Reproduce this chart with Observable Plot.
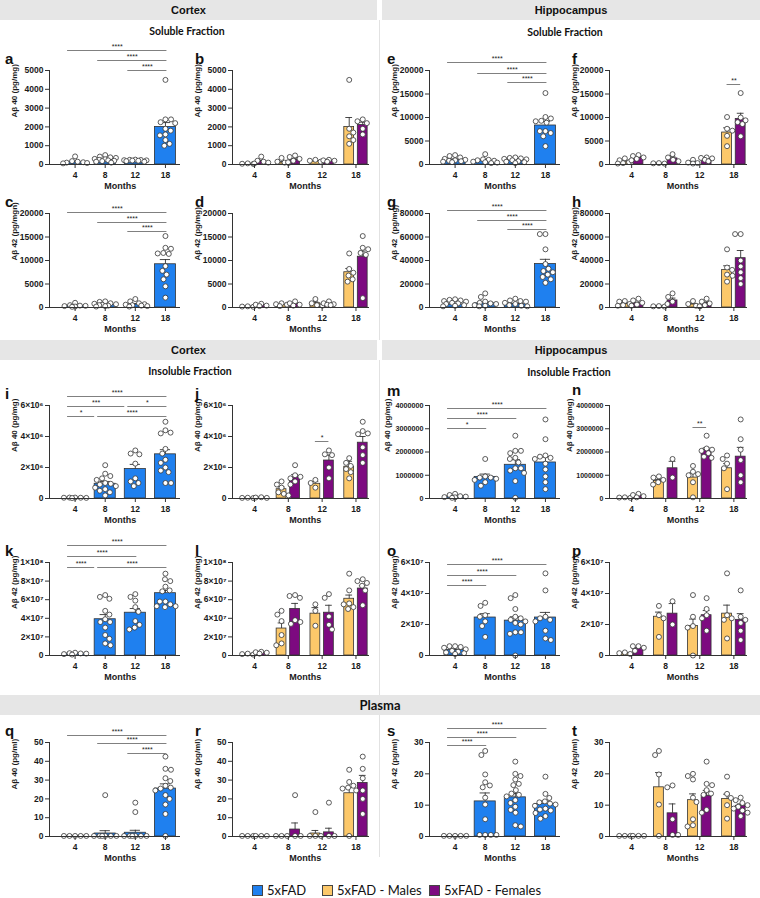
<!DOCTYPE html>
<html><head><meta charset="utf-8">
<script src="https://cdn.jsdelivr.net/npm/d3@7"></script>
<script src="https://cdn.jsdelivr.net/npm/@observablehq/plot@0.6"></script>
<style>
body{margin:0;background:#fff;}
#root{position:relative;width:760px;height:898px;overflow:hidden;font-family:"Liberation Sans",Arial,sans-serif;color:#111;}
.band{position:absolute;background:#e6e6e6;height:20px;line-height:20px;text-align:center;font-weight:bold;font-size:11px;}
.sub{position:absolute;font-family:Lato,"Open Sans",sans-serif;font-weight:bold;font-size:10.5px;transform:translate(-50%,-50%);white-space:nowrap;}
.letter{position:absolute;font-weight:bold;font-size:15px;line-height:15px;}
.panel{position:absolute;}
.sep{position:absolute;width:1px;background:#e2e2e2;}
.lg{position:absolute;font-family:Lato,"Open Sans",sans-serif;font-size:13px;line-height:13px;white-space:nowrap;}
.sq{position:absolute;width:11px;height:11px;box-sizing:border-box;border:1px solid #444;}
</style></head><body><div id="root"></div>
<script>
// ---------- categories / tick labels ----------
const months = ["4", "8", "12", "18"];
const ticks5k = [0, 1000, 2000, 3000, 4000, 5000];
const ticks20k = [0, 5000, 10000, 15000, 20000];
const ticks80k = [0, 20000, 40000, 60000, 80000];
const ticks6e6 = [0, 2e6, 4e6, 6e6];
const labels6e6 = ["0", "2×10⁶", "4×10⁶", "6×10⁶"];
const ticks1e8 = [0, 2e7, 4e7, 6e7, 8e7, 1e8];
const labels1e8 = ["0", "2×10⁷", "4×10⁷", "6×10⁷", "8×10⁷", "1×10⁸"];
const ticks4e6 = [0, 1e6, 2e6, 3e6, 4e6];
const ticks6e7 = [0, 2e7, 4e7, 6e7];
const labels6e7 = ["0", "2×10⁷", "4×10⁷", "6×10⁷"];
const ticks50 = [0, 10, 20, 30, 40, 50];
const ticks30 = [0, 10, 20, 30];
const seriesNames = ["5xFAD", "5xFAD - Males", "5xFAD - Females"];

// ---------- a: cortex soluble Aβ40 ----------
const a_mean = [120, 230, 210, 2000];
const a_sem = [40, 40, 15, 230];
const a_pts = [[430, 180, 150, 120, 100, 80, 60],
  [500, 420, 380, 350, 300, 280, 250, 220, 200, 180, 150, 100],
  [260, 250, 240, 230, 220, 210, 200, 180, 150],
  [4500, 2400, 2400, 2250, 2200, 1900, 1800, 1600, 1550, 1300, 1100, 1000]];
// ---------- b ----------
const b_m_mean = [40, 110, 170, 2000];
const b_m_sem = [10, 30, 20, 500];
const b_m_pts = [[60, 40, 30], [350, 150, 100, 80], [250, 200, 150], [4500, 1900, 1700, 1500, 1300, 1100]];
const b_f_mean = [160, 240, 200, 2100];
const b_f_sem = [60, 60, 20, 150];
const b_f_pts = [[420, 200, 150, 100, 50], [480, 400, 300, 200, 120], [250, 220, 200, 150], [2400, 2300, 2200, 1900, 1600]];
// ---------- c: cortex soluble Aβ42 ----------
const c_mean = [350, 550, 650, 9200];
const c_sem = [100, 110, 150, 1000];
const c_pts = [[1000, 500, 400, 350, 300, 200, 150],
  [1300, 1200, 900, 800, 700, 600, 500, 400, 300, 200],
  [1800, 1300, 900, 700, 600, 500, 400, 300, 200],
  [15200, 12700, 12500, 11500, 11400, 11600, 8800, 7800, 7000, 6000, 4500, 2100]];
// ---------- d ----------
const d_m_mean = [200, 600, 900, 7500];
const d_m_sem = [30, 130, 300, 800];
const d_m_pts = [[250, 200, 150], [900, 700, 600, 300], [1800, 900, 500, 400], [11500, 8200, 7400, 6800, 6000, 5500]];
const d_f_mean = [500, 750, 800, 10800];
const d_f_sem = [100, 200, 150, 1200];
const d_f_pts = [[800, 600, 400, 300], [1300, 900, 600, 400], [1300, 900, 700, 600, 500], [15200, 12700, 12400, 11600, 11200, 2000]];
// ---------- e: hippocampus soluble Aβ40 ----------
const e_mean = [1000, 800, 900, 8300];
const e_sem = [180, 200, 130, 900];
const e_pts = [[2000, 1800, 1500, 1200, 1000, 900, 800, 700, 600, 500],
  [2200, 1100, 1000, 900, 800, 600, 500, 400, 300],
  [1500, 1400, 1300, 1200, 1100, 900, 700, 600, 500, 300],
  [15200, 10100, 9800, 9300, 9200, 8900, 7100, 7100, 6700, 6000, 3900]];
// ---------- f ----------
const f_m_mean = [600, 200, 500, 6800];
const f_m_sem = [200, 50, 200, 1000];
const f_m_pts = [[1300, 900, 500, 300, 200], [300, 250, 200], [1000, 400, 300, 200], [10100, 7600, 7200, 6100, 3900]];
const f_f_mean = [1400, 1300, 1200, 9700];
const f_f_sem = [200, 350, 150, 1200];
const f_f_pts = [[2000, 1800, 1500, 1200, 900], [2200, 1500, 1000, 700], [1500, 1400, 1300, 1000, 700], [15200, 10000, 9400, 9000, 8600, 6000]];
// ---------- g: hippocampus soluble Aβ42 ----------
const g_mean = [2500, 3500, 2800, 37000];
const g_sem = [600, 1200, 700, 4000];
const g_pts = [[7000, 6500, 6000, 5500, 5000, 4000, 3500, 3000, 2000, 1500, 1000],
  [12000, 9000, 5000, 4000, 3500, 3000, 2000, 1500, 1000],
  [7500, 6000, 5500, 5000, 4000, 3000, 2000, 1500, 1000],
  [62500, 62500, 49500, 37000, 33000, 31000, 30000, 28000, 26000, 24000, 21000]];
// ---------- h ----------
const h_m_mean = [3000, 1000, 2500, 32000];
const h_m_sem = [800, 200, 1000, 3500];
const h_m_pts = [[5500, 5000, 3000, 2000, 1500], [1200, 1000, 800], [5500, 3000, 1500, 1000], [49500, 34000, 32000, 28000, 27000, 22000]];
const h_f_mean = [3500, 6000, 3500, 42000];
const h_f_sem = [1000, 2000, 1200, 6500];
const h_f_pts = [[7500, 6000, 4000, 2500, 1500], [12000, 9000, 5000, 3000], [7500, 5000, 3500, 2000, 1000], [62500, 62500, 40000, 35000, 30000, 25000, 20000]];
// ---------- i: cortex insoluble Aβ40 ----------
const i_mean = [50000, 950000, 1900000, 2850000];
const i_sem = [5000, 150000, 300000, 300000];
const i_pts = [[60000, 60000, 50000, 50000, 40000, 30000],
  [2150000, 1600000, 1450000, 1300000, 1200000, 1000000, 950000, 900000, 800000, 700000, 600000, 500000, 400000, 200000],
  [3100000, 2900000, 2850000, 2250000, 1300000, 1100000, 1000000, 800000],
  [4950000, 4400000, 4250000, 4200000, 3200000, 2900000, 2500000, 2300000, 2000000, 1800000, 1700000, 1000000, 1000000]];
// ---------- j ----------
const j_m_mean = [40000, 600000, 950000, 2050000];
const j_m_sem = [5000, 150000, 150000, 350000];
const j_m_pts = [[50000, 40000, 30000], [1100000, 900000, 700000, 400000, 300000, 200000], [1200000, 1000000, 700000], [2600000, 2300000, 2100000, 1900000, 1700000, 1300000]];
const j_f_mean = [60000, 1400000, 2450000, 3600000];
const j_f_sem = [10000, 150000, 350000, 400000];
const j_f_pts = [[80000, 60000, 40000], [2150000, 1500000, 1400000, 1300000, 1100000, 900000], [3100000, 2850000, 2800000, 2000000, 1300000], [4950000, 4350000, 4200000, 4150000, 3300000, 2800000, 2300000]];
// ---------- k: cortex insoluble Aβ42 ----------
const k_mean = [2000000, 39000000, 46000000, 67000000];
const k_sem = [300000, 5000000, 4500000, 3000000];
const k_pts = [[3000000, 2500000, 2200000, 2000000, 1500000, 1000000],
  [65000000, 63000000, 61000000, 48000000, 44000000, 39000000, 36000000, 36000000, 30000000, 22000000, 18000000, 13000000, 11000000],
  [66000000, 63000000, 59000000, 52000000, 47000000, 37000000, 33000000, 30000000, 28000000],
  [88000000, 82000000, 80000000, 74000000, 70000000, 69000000, 58000000, 58000000, 55000000, 53000000, 53000000, 52000000]];
// ---------- l ----------
const l_m_mean = [1500000, 29000000, 45000000, 61000000];
const l_m_sem = [200000, 6000000, 6500000, 4000000];
const l_m_pts = [[2000000, 1500000, 1000000], [48000000, 44000000, 37000000, 22000000, 13000000, 11000000], [55000000, 48000000, 32000000], [88000000, 70000000, 56000000, 55000000, 52000000, 50000000]];
const l_f_mean = [3000000, 50000000, 46000000, 72000000];
const l_f_sem = [500000, 6000000, 8000000, 3000000];
const l_f_pts = [[4000000, 3500000, 3000000, 2000000], [65000000, 64000000, 62000000, 38000000, 36000000, 34000000], [66000000, 62000000, 42000000, 33000000, 28000000], [82000000, 80000000, 78000000, 75000000, 70000000, 54000000]];
// ---------- m: hippocampus insoluble Aβ40 ----------
const m_mean = [80000, 930000, 1450000, 1550000];
const m_sem = [25000, 120000, 220000, 230000];
const m_pts = [[200000, 150000, 100000, 80000, 60000, 50000, 30000],
  [1700000, 950000, 900000, 900000, 850000, 800000, 700000, 550000],
  [2700000, 2050000, 2050000, 1950000, 1750000, 1700000, 1550000, 1300000, 1300000, 1200000, 1100000, 750000, 30000],
  [3400000, 2550000, 1850000, 1800000, 1750000, 1700000, 1500000, 1250000, 950000, 700000, 400000]];
// ---------- n ----------
const n_m_mean = [40000, 750000, 900000, 1300000];
const n_m_sem = [5000, 70000, 200000, 200000];
const n_m_pts = [[50000, 40000, 30000], [950000, 900000, 800000, 700000, 600000], [1400000, 1150000, 1050000, 1000000, 700000, 50000], [1850000, 1700000, 1500000, 1300000, 400000]];
const n_f_mean = [100000, 1300000, 2100000, 1800000];
const n_f_sem = [30000, 300000, 80000, 400000];
const n_f_pts = [[200000, 150000, 100000, 50000], [1700000, 900000], [2700000, 2150000, 2100000, 2050000, 1950000, 1800000, 1750000], [3400000, 2550000, 2100000, 1650000, 1000000, 700000]];
// ---------- o: hippocampus insoluble Aβ42 ----------
const o_mean = [3500000, 24500000, 22500000, 24500000];
const o_sem = [600000, 2500000, 2500000, 3300000];
const o_pts = [[6000000, 6000000, 5500000, 5000000, 4000000, 3000000, 2500000, 2000000, 1500000, 1000000],
  [34000000, 32000000, 26000000, 25000000, 22000000, 19000000, 12000000],
  [39000000, 37000000, 30000000, 25000000, 24000000, 23000000, 22000000, 21000000, 20000000, 15000000, 15000000, 14000000, 0],
  [53000000, 42000000, 25000000, 24000000, 23000000, 22000000, 16000000, 11000000, 10000000]];
// ---------- p ----------
const p_m_mean = [1500000, 25000000, 19000000, 27000000];
const p_m_sem = [200000, 3000000, 4500000, 5500000];
const p_m_pts = [[2000000, 1500000, 1000000], [32000000, 26000000, 24000000, 12000000], [39000000, 25000000, 19000000, 18000000, 0], [53000000, 26000000, 24000000, 23000000, 11000000]];
const p_f_mean = [4500000, 27000000, 26000000, 23000000];
const p_f_sem = [800000, 6500000, 3000000, 4000000];
const p_f_pts = [[6000000, 6000000, 5000000, 3000000], [35000000, 20000000], [37000000, 30000000, 26000000, 24000000, 16000000], [42000000, 25000000, 23000000, 21000000, 16000000, 10000000]];
// ---------- q: plasma Aβ40 ----------
const q_mean = [0.3, 1.6, 2.0, 25.5];
const q_sem = [0, 1.5, 1.3, 2.5];
const q_pts = [[0.3, 0.3, 0.3, 0.3, 0.3],
  [22, 0.3, 0.3, 0.3, 0.3, 0.3, 0.3],
  [18, 13, 0.3, 0.3, 0.3, 0.3, 0.3, 0.3],
  [42.5, 36, 35.5, 31, 29.5, 27, 26, 25.5, 24.5, 22, 20, 17, 12, 0.3]];
// ---------- r ----------
const r_m_mean = [0.3, 0.3, 1.6, 23];
const r_m_sem = [0, 0, 1.6, 3];
const r_m_pts = [[0.3, 0.3, 0.3], [0.3, 0.3, 0.3], [13, 0.3, 0.3, 0.3], [35.5, 29, 27, 26, 25.5, 24.5, 0.3]];
const r_f_mean = [0.3, 3.7, 2.2, 28.5];
const r_f_sem = [0, 3.5, 2.2, 4];
const r_f_pts = [[0.3, 0.3, 0.3], [22, 0.3, 0.3], [18, 0.3, 0.3], [42.5, 36, 31, 24.5, 20, 12]];
// ---------- s: plasma Aβ42 ----------
const s_mean = [0.2, 11.2, 12.5, 10.4];
const s_sem = [0, 2.7, 1.2, 0.9];
const s_pts = [[0.2, 0.2, 0.2, 0.2, 0.2],
  [27.3, 26, 19.8, 17.3, 16.3, 15.7, 12.4, 10.2, 5.5, 0.5, 0.5, 0.5, 0.5],
  [23.9, 20, 19.3, 18.2, 16.8, 16.4, 14.8, 13.7, 13.3, 12.8, 11.6, 10.7, 9.5, 8.5, 7.6, 3.6, 3.2],
  [19.1, 13.6, 12.3, 11.2, 10.9, 10.5, 10.2, 9.8, 8.9, 8.6, 8.3, 7.5, 6.5, 5.7]];
// ---------- t ----------
const t_m_mean = [0.2, 15.7, 11.6, 12];
const t_m_sem = [0, 4.7, 2, 1.5];
const t_m_pts = [[0.2, 0.2, 0.2], [27.3, 26, 19.8, 10.2, 0.2], [20, 19.3, 18.2, 12.4, 11, 5.5, 3.6, 3.2], [19.1, 13.6, 12.3, 10, 5.7]];
const t_f_mean = [0.2, 7.4, 13, 9.8];
const t_f_sem = [0, 3, 1.7, 0.6];
const t_f_pts = [[0.2, 0.2, 0.2], [16.3, 15.7, 5.5, 0.5, 0.5], [23.9, 16.8, 16.4, 14.8, 13.7, 13.3, 8.5, 7.6], [12.4, 11.6, 10.7, 10, 9.5, 8.9, 8.3, 7.6, 6.5]];

// ---------- significance brackets (group indexes) ----------
const sig_3to18 = [{from: 0, to: 3, label: "****", row: 0}, {from: 1, to: 3, label: "****", row: 1}, {from: 2, to: 3, label: "****", row: 2}];
const sig_from4 = [{from: 0, to: 3, label: "****", row: 0}, {from: 0, to: 2, label: "****", row: 1}, {from: 0, to: 1, label: "****", row: 2}];
const i_sig = [{from: 0, to: 3, label: "****", row: 0}, {from: 0, to: 2, label: "***", row: 1}, {from: 2, to: 3, label: "*", row: 1}, {from: 0, to: 1, label: "*", row: 2}, {from: 1, to: 3, label: "****", row: 2}];
const k_sig = [{from: 0, to: 3, label: "****", row: 0}, {from: 0, to: 2, label: "****", row: 1}, {from: 0, to: 1, label: "****", row: 2}, {from: 1, to: 3, label: "****", row: 2}];
const m_sig = [{from: 0, to: 3, label: "****", row: 0}, {from: 0, to: 2, label: "****", row: 1}, {from: 0, to: 1, label: "*", row: 2}];
const f_sig = [{g: 3, label: "**", row: 0}];
const j_sig = [{g: 2, label: "*", row: 0}];
const n_sig = [{g: 2, label: "**", row: 0}];

// ---------- styles / layout ----------
const BLUE = "#1f80ef", MALE = "#fcc86a", FEMALE = "#7d0a80";
const COLS = {L: {x0: 49, x1: 180}, LG: {x0: 232, x1: 369}, R: {x0: 429, x1: 560}, RG: {x0: 609, x1: 747}};
const ROWS = [{yTop: 70, yBot: 164}, {yTop: 213, yBot: 307}, {yTop: 405, yBot: 498}, {yTop: 562, yBot: 655}, {yTop: 742, yBot: 836}];

const root = document.getElementById("root");
function div(cls, css, html) {
  const el = document.createElement("div");
  el.className = cls; Object.assign(el.style, css); if (html != null) el.innerHTML = html;
  root.appendChild(el); return el;
}

// bands and subtitles
div("band", {left: "0px", top: "0px", width: "377px"}, "Cortex");
div("band", {left: "382px", top: "0px", width: "378px"}, "Hippocampus");
div("sub", {left: "187px", top: "31px"}, "Soluble Fraction");
div("sub", {left: "565px", top: "32px"}, "Soluble Fraction");
div("band", {left: "0px", top: "340px", width: "377px"}, "Cortex");
div("band", {left: "382px", top: "340px", width: "378px"}, "Hippocampus");
div("sub", {left: "190px", top: "371px"}, "Insoluble Fraction");
div("sub", {left: "569px", top: "372px"}, "Insoluble Fraction");
div("band", {left: "0px", top: "695px", width: "760px", fontFamily: "Lato, 'Open Sans', sans-serif", fontSize: "13px"}, "Plasma");
div("sep", {left: "379px", top: "20px", height: "320px"});
div("sep", {left: "379px", top: "360px", height: "335px"});
div("sep", {left: "379px", top: "715px", height: "142px"});

function swarm(vals, toPx, D, maxHalf) {
  const idx = vals.map((_, i) => i).sort((p, q) => vals[q] - vals[p]);
  const placed = [];
  const out = new Array(vals.length).fill(0);
  let flip = 1;
  for (const i of idx) {
    const y = toPx(vals[i]);
    const cands = [0];
    for (const p of placed) {
      const dy = Math.abs(p.y - y);
      if (dy < D) { const dx = Math.sqrt(D * D - dy * dy); cands.push(p.x + dx, p.x - dx); }
    }
    flip = -flip;
    cands.sort((u, v) => Math.abs(u) - Math.abs(v) || flip * (u - v));
    let best = null;
    for (const c of cands) {
      if (Math.abs(c) > maxHalf + 1e-9) continue;
      if (placed.every(p => (p.x - c) ** 2 + (p.y - y) ** 2 >= D * D - 1e-6)) { best = c; break; }
    }
    if (best === null) {
      let bestScore = -1;
      for (let k = 0; k <= 8; k++) {
        const c = -maxHalf + (2 * maxHalf * k) / 8;
        const sc = Math.min(...placed.map(p => (p.x - c) ** 2 + (p.y - y) ** 2));
        if (sc > bestScore) { bestScore = sc; best = c; }
      }
    }
    placed.push({x: best, y});
    out[i] = best;
  }
  return out;
}

function panel(cfg) {
  const {letter, col, row, yMax, yTicks, yLabels, yLabel, series, sig = [], sigRows = [], tickFont = 8.5, labelDx = -35, letterUp = 0} = cfg;
  const {x0, x1} = COLS[col];
  const {yTop, yBot} = ROWS[row];
  const grouped = series.length === 2;
  const xDom = grouped ? [-0.15, 3.9] : [-0.35, 4.0];
  const fw = x1 - x0, fh = yBot - yTop;
  const pxu = fw / (xDom[1] - xDom[0]);
  const mL = 50, mR = 8, mT = 34, mB = 34;
  const W = mL + fw + mR, H = mT + fh + mB;
  const offsets = grouped ? [-0.2, 0.2] : [0];
  const half = grouped ? 0.145 : 0.35;
  const bars = [], errs = [], dots = [];
  series.forEach((s, si) => {
    for (let g = 0; g < months.length; g++) {
      const c = g + 0.5 + offsets[si];
      bars.push({x1: c - half, x2: c + half, y: s.mean[g], fill: s.color});
      if (s.sem[g] > 0) errs.push({x: c, y1: s.mean[g], y2: s.mean[g] + s.sem[g], cap: grouped ? 0.1 : 0.17});
      const offs = swarm(s.pts[g], v => v / yMax * fh, 5.6, grouped ? 7 : 12);
      s.pts[g].forEach((v, k) => dots.push({x: c + offs[k] / pxu, y: v}));
    }
  });
  let sigData = sig.map(d => {
    let xa, xb;
    if (d.g !== undefined) { xa = d.g + 0.5 - 0.2; xb = d.g + 0.5 + 0.2; }
    else { xa = d.from + 0.5 - 0.25; xb = d.to + 0.5 + 0.05; }
    const py = yTop + sigRows[d.row];
    return {xa, xb, row: d.row, yv: yMax * (yBot - py) / fh, label: d.label};
  });
  sigData.sort((p, q) => p.row - q.row || p.xa - q.xa);
  for (let k = 1; k < sigData.length; k++) {
    const p = sigData[k - 1], q = sigData[k];
    if (p.row === q.row && p.xb > q.xa - 0.1) p.xb = q.xa - 0.1;
  }
  sigData.forEach(d => d.xm = (d.xa + d.xb) / 2);
  const tickMap = new Map(yTicks.map((t, k) => [t, yLabels ? yLabels[k] : String(t)]));

  const svg = Plot.plot({
    width: W, height: H, marginLeft: mL, marginRight: mR, marginTop: mT, marginBottom: mB,
    style: {background: "transparent", overflow: "visible", fontFamily: "'Liberation Sans', Arial, sans-serif", fontWeight: "bold", color: "#1a1a1a"},
    x: {domain: xDom, label: null},
    y: {domain: [0, yMax], label: null},
    color: {type: "identity"},
    marks: [
      Plot.rectY(bars, {x1: "x1", x2: "x2", y: "y", fill: "fill", stroke: "#333", strokeWidth: 0.8}),
      Plot.ruleX(errs, {x: "x", y1: "y1", y2: "y2", stroke: "#333", strokeWidth: 0.9}),
      Plot.ruleY(errs, {y: "y2", x1: d => d.x - d.cap, x2: d => d.x + d.cap, stroke: "#333", strokeWidth: 0.9}),
      Plot.dot(dots, {x: "x", y: "y", r: 2.5, fill: "white", stroke: "#333", strokeWidth: 0.8}),
      Plot.ruleY([0], {stroke: "#333", strokeWidth: 1}),
      Plot.ruleX([xDom[0]], {y1: 0, y2: yMax, stroke: "#333", strokeWidth: 1}),
      Plot.axisY({ticks: yTicks, tickFormat: t => tickMap.get(t), tickSize: 4, tickPadding: 2, fontSize: tickFont, label: null, stroke: "#333"}),
      Plot.axisX({ticks: months.map((_, k) => k + 0.5), tickFormat: t => months[Math.floor(t)], tickSize: 4, tickPadding: 3, fontSize: 8.5, label: null, stroke: "#333"}),
      Plot.text(["Months"], {x: (months.length - 1) / 2 + 0.5, frameAnchor: "bottom", dy: 24, fontSize: 9, fontWeight: "bold"}),
      Plot.text([yLabel], {frameAnchor: "left", rotate: -90, dx: labelDx, fontSize: 8, fontWeight: "bold"}),
      Plot.ruleY(sigData, {y: "yv", x1: "xa", x2: "xb", stroke: "#808080", strokeWidth: 1}),
      Plot.text(sigData, {x: "xm", y: "yv", text: "label", dy: -3.5, fontSize: 7, fontWeight: "normal"})
    ]
  });
  const wrap = div("panel", {left: (x0 - mL) + "px", top: (yTop - mT) + "px", width: W + "px", height: H + "px"});
  wrap.appendChild(svg);
  const lx = {L: 5, LG: 195, R: 387, RG: 572}[col];
  div("letter", {left: lx + "px", top: (yTop - 19 - letterUp) + "px"}, letter);
}

const one = (mean, sem, pts) => [{color: BLUE, mean, sem, pts}];
const two = (mm, ms, mp, fm, fs, fp) => [{color: MALE, mean: mm, sem: ms, pts: mp}, {color: FEMALE, mean: fm, sem: fs, pts: fp}];

panel({letter: "a", col: "L", row: 0, yMax: 5000, yTicks: ticks5k, yLabel: "Aβ 40 (pg/mg)", series: one(a_mean, a_sem, a_pts), sig: sig_3to18, sigRows: [-20, -10, 0]});
panel({letter: "b", col: "LG", row: 0, yMax: 5000, yTicks: ticks5k, yLabel: "Aβ 40 (pg/mg)", series: two(b_m_mean, b_m_sem, b_m_pts, b_f_mean, b_f_sem, b_f_pts)});
panel({letter: "c", col: "L", row: 1, yMax: 20000, yTicks: ticks20k, yLabel: "Aβ 42 (pg/mgn)", series: one(c_mean, c_sem, c_pts), sig: sig_3to18, sigRows: [-1, 9, 18]});
panel({letter: "d", col: "LG", row: 1, yMax: 20000, yTicks: ticks20k, yLabel: "Aβ 42 (pg/mg)", series: two(d_m_mean, d_m_sem, d_m_pts, d_f_mean, d_f_sem, d_f_pts)});
panel({letter: "e", col: "R", row: 0, yMax: 20000, yTicks: ticks20k, yLabel: "Aβ 40 (pg/mg)", series: one(e_mean, e_sem, e_pts), sig: sig_3to18, sigRows: [-8, 3, 12]});
panel({letter: "f", col: "RG", row: 0, yMax: 20000, yTicks: ticks20k, yLabel: "Aβ 40 (pg/mg)", series: two(f_m_mean, f_m_sem, f_m_pts, f_f_mean, f_f_sem, f_f_pts), sig: f_sig, sigRows: [14]});
panel({letter: "g", col: "R", row: 1, yMax: 80000, yTicks: ticks80k, yLabel: "Aβ 42  (pg/mg)", series: one(g_mean, g_sem, g_pts), sig: sig_3to18, sigRows: [-3, 7, 16]});
panel({letter: "h", col: "RG", row: 1, yMax: 80000, yTicks: ticks80k, yLabel: "Aβ 42 (pg/mg)", series: two(h_m_mean, h_m_sem, h_m_pts, h_f_mean, h_f_sem, h_f_pts)});
panel({letter: "i", col: "L", row: 2, yMax: 6e6, yTicks: ticks6e6, yLabels: labels6e6, yLabel: "Aβ 40 (pg/mg)", series: one(i_mean, i_sem, i_pts), sig: i_sig, sigRows: [-9, 1, 11]});
panel({letter: "j", col: "LG", row: 2, yMax: 6e6, yTicks: ticks6e6, yLabels: labels6e6, yLabel: "Aβ 40 (pg/mg)", series: two(j_m_mean, j_m_sem, j_m_pts, j_f_mean, j_f_sem, j_f_pts), sig: j_sig, sigRows: [36]});
panel({letter: "k", col: "L", row: 3, yMax: 1e8, yTicks: ticks1e8, yLabels: labels1e8, yLabel: "Aβ 42 (pg/mg)", series: one(k_mean, k_sem, k_pts), sig: k_sig, sigRows: [-17, -6, 5]});
panel({letter: "l", col: "LG", row: 3, yMax: 1e8, yTicks: ticks1e8, yLabels: labels1e8, yLabel: "Aβ 42 (pg/mg)", series: two(l_m_mean, l_m_sem, l_m_pts, l_f_mean, l_f_sem, l_f_pts)});
panel({letter: "m", col: "R", row: 2, yMax: 4e6, yTicks: ticks4e6, yLabel: "Aβ 40 (pg/mg)", series: one(m_mean, m_sem, m_pts), sig: m_sig, sigRows: [3, 13, 23], tickFont: 7.2, labelDx: -42, letterUp: 3});
panel({letter: "n", col: "RG", row: 2, yMax: 4e6, yTicks: ticks4e6, yLabel: "Aβ 40 (pg/mg)", series: two(n_m_mean, n_m_sem, n_m_pts, n_f_mean, n_f_sem, n_f_pts), sig: n_sig, sigRows: [22], tickFont: 7, labelDx: -40, letterUp: 4});
panel({letter: "o", col: "R", row: 3, yMax: 6e7, yTicks: ticks6e7, yLabels: labels6e7, yLabel: "Aβ 42 (pg/mg)", series: one(o_mean, o_sem, o_pts), sig: sig_from4, sigRows: [2, 13, 23]});
panel({letter: "p", col: "RG", row: 3, yMax: 6e7, yTicks: ticks6e7, yLabels: labels6e7, yLabel: "Aβ 42 (pg/mg)", series: two(p_m_mean, p_m_sem, p_m_pts, p_f_mean, p_f_sem, p_f_pts)});
panel({letter: "q", col: "L", row: 4, yMax: 50, yTicks: ticks50, yLabel: "Aβ 40 (pg/ml)", series: one(q_mean, q_sem, q_pts), sig: sig_3to18, sigRows: [-7, 1, 11]});
panel({letter: "r", col: "LG", row: 4, yMax: 50, yTicks: ticks50, yLabel: "Aβ 40 (pg/ml)", series: two(r_m_mean, r_m_sem, r_m_pts, r_f_mean, r_f_sem, r_f_pts)});
panel({letter: "s", col: "R", row: 4, yMax: 30, yTicks: ticks30, yLabel: "Aβ 42 (pg/ml)", series: one(s_mean, s_sem, s_pts), sig: sig_from4, sigRows: [-14, -5, 3]});
panel({letter: "t", col: "RG", row: 4, yMax: 30, yTicks: ticks30, yLabel: "Aβ 42 (pg/ml)", series: two(t_m_mean, t_m_sem, t_m_pts, t_f_mean, t_f_sem, t_f_pts)});

// legend
const legendItems = [
  {name: seriesNames[0], color: BLUE, sq: 252, tx: 267},
  {name: seriesNames[1], color: MALE, sq: 322, tx: 337},
  {name: seriesNames[2], color: FEMALE, sq: 429, tx: 444}
];
for (const it of legendItems) {
  div("sq", {left: it.sq + "px", top: "885px", background: it.color});
  div("lg", {left: it.tx + "px", top: "884px"}, it.name);
}
</script></body></html>
